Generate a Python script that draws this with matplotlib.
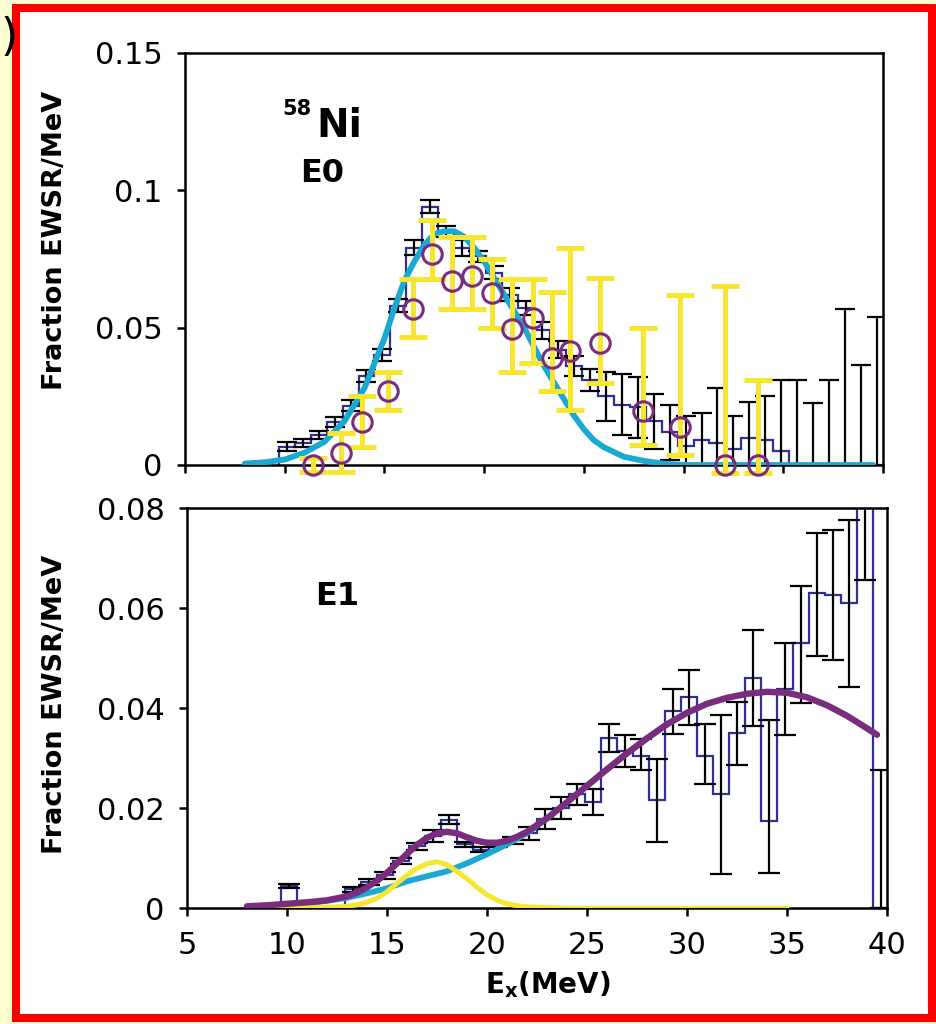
import numpy as np
import matplotlib
matplotlib.use("Agg")
import matplotlib.pyplot as plt
from matplotlib.patches import Rectangle

plt.rcParams['mathtext.default'] = 'bf'

# bin centres shared by both spectra (MeV)
bin_centers = [10.1, 10.9, 11.7, 12.5, 13.3, 14.1, 14.9, 15.7, 16.5, 17.3,
               18.1, 18.9, 19.7, 20.5, 21.3, 22.1, 22.9, 23.7, 24.5, 25.3,
               26.1, 26.9, 27.7, 28.5, 29.3, 30.1, 30.9, 31.7, 32.5, 33.3,
               34.1, 34.9, 35.7, 36.5, 37.3, 38.1, 38.9, 39.7]
bin_width = 0.8

# E0 strength (black points + blue histogram)
e0_val = [0.0067, 0.0080, 0.0110, 0.0158, 0.0215, 0.0325, 0.0400, 0.0580, 0.0790, 0.0940,
          0.0850, 0.0790, 0.0760, 0.0700, 0.0620, 0.0570, 0.0490, 0.0420, 0.0360, 0.0310,
          0.0250, 0.0220, 0.0210, 0.0160, 0.0120, 0.0070, 0.0090, 0.0080, 0.0060, 0.0100,
          0.0090, 0.0050, 0.0, 0.0, 0.0, 0.0, 0.0, 0.0]
e0_err = [0.0015, 0.0015, 0.0015, 0.0018, 0.0020, 0.0022, 0.0022, 0.0025, 0.0028, 0.0025,
          0.0020, 0.0030, 0.0020, 0.0025, 0.0025, 0.0025, 0.0030, 0.0030, 0.0035, 0.0040,
          0.0090, 0.0110, 0.0110, 0.0100, 0.0100, 0.0110, 0.0100, 0.0200, 0.0120, 0.0130,
          0.0160, 0.0260, 0.0310, 0.0226, 0.0310, 0.0566, 0.0365, 0.0540]

# second E0 data set (purple circles, yellow bars)
e0b_x = [11.4, 12.8, 13.9, 15.2, 16.45, 17.4, 18.4, 19.4, 20.4, 21.4, 22.45, 23.4,
         24.3, 25.8, 27.95, 29.8, 32.1, 33.75]
e0b_val = [0.0, 0.0044, 0.0155, 0.027, 0.0566, 0.0766, 0.0669, 0.0687, 0.0627, 0.0493,
           0.0535, 0.039, 0.0414, 0.0444, 0.0195, 0.014, 0.0, 0.0]
e0b_lo = [-0.0025, -0.0026, 0.0067, 0.020, 0.0464, 0.0675, 0.0566, 0.0566, 0.050, 0.034,
          0.037, 0.027, 0.020, 0.030, 0.0073, 0.0036, -0.003, -0.003]
e0b_hi = [0.0025, 0.0117, 0.025, 0.034, 0.0675, 0.089, 0.083, 0.083, 0.0748, 0.0675,
          0.0675, 0.063, 0.079, 0.068, 0.050, 0.062, 0.065, 0.031]

# E0 fit curve
e0_fit_x = [8.0, 9.0, 10.0, 11.0, 12.0, 13.0, 14.0, 15.0, 15.5, 16.0, 16.5, 17.0, 17.5,
            18.0, 18.5, 19.0, 19.5, 20.0, 20.5, 21.0, 21.5, 22.0, 22.5, 23.0, 23.5, 24.0,
            24.5, 25.0, 25.5, 26.0, 27.0, 28.0, 29.0, 30.0, 39.5]
e0_fit_y = [0.0005, 0.001, 0.002, 0.0045, 0.0085, 0.016, 0.028, 0.046, 0.057, 0.067, 0.074,
            0.080, 0.084, 0.085, 0.085, 0.083, 0.079, 0.074, 0.068, 0.062, 0.056, 0.050,
            0.043, 0.036, 0.030, 0.024, 0.018, 0.013, 0.009, 0.0065, 0.003, 0.0015, 0.0005,
            0.0, 0.0]

# E1 strength
e1_val = [0.0045, np.nan, np.nan, np.nan, 0.0038, 0.0053, 0.0066, 0.0094, 0.0124, 0.0145,
          0.0177, 0.0128, 0.0117, 0.0128, 0.0136, 0.0150, 0.0179, 0.0201, 0.0228, 0.0213,
          0.0340, 0.0315, 0.0305, 0.0216, 0.0394, 0.0422, 0.0305, 0.0229, 0.0350, 0.0460,
          0.0175, 0.0438, 0.0530, 0.0630, 0.0627, 0.0610, 0.0950, 0.0]
e1_lo = [0.0041, np.nan, np.nan, np.nan, 0.0033, 0.0047, 0.0059, 0.0088, 0.0117, 0.0133,
         0.0169, 0.0123, 0.0112, 0.0122, 0.0129, 0.0136, 0.0159, 0.0179, 0.0206, 0.0186,
         0.0313, 0.0283, 0.0276, 0.0133, 0.0349, 0.0366, 0.0248, 0.0069, 0.0286, 0.0364,
         0.0071, 0.0346, 0.0410, 0.0504, 0.0496, 0.0443, 0.0657, 0.0]
e1_hi = [0.0049, np.nan, np.nan, np.nan, 0.0043, 0.0059, 0.0073, 0.0100, 0.0131, 0.0156,
         0.0186, 0.0133, 0.0122, 0.0134, 0.0143, 0.0163, 0.0199, 0.0223, 0.0249, 0.0239,
         0.0369, 0.0346, 0.0339, 0.0299, 0.0439, 0.0476, 0.0369, 0.0386, 0.0413, 0.0557,
         0.0377, 0.0531, 0.0644, 0.0750, 0.0756, 0.0776, 0.1200, 0.0276]

# E1 fit curves: total (purple), pygmy (yellow), GDR tail (cyan)
e1_tot_x = [8.0, 9.0, 10.0, 11.0, 12.0, 13.0, 13.5, 14.0, 14.5, 15.0, 15.5, 16.0, 16.5,
            17.0, 17.5, 18.0, 18.5, 19.0, 19.5, 20.0, 20.5, 21.0, 21.5, 22.0, 23.0, 24.0,
            25.0, 26.0, 27.0, 28.0, 29.0, 30.0, 31.0, 32.0, 33.0, 34.0, 35.0, 36.0, 37.0,
            38.0, 39.0, 39.5]
e1_tot_y = [0.0004, 0.0006, 0.0009, 0.0012, 0.0016, 0.0024, 0.0031, 0.0042, 0.0055, 0.0071,
            0.0090, 0.0109, 0.0127, 0.0141, 0.0150, 0.0153, 0.0150, 0.0142, 0.0135, 0.0131,
            0.0131, 0.0135, 0.0143, 0.0153, 0.0180, 0.0212, 0.0245, 0.0278, 0.0310, 0.0340,
            0.0368, 0.0391, 0.0409, 0.0421, 0.0429, 0.0433, 0.0431, 0.0422, 0.0406, 0.0385,
            0.0360, 0.0347]
e1_pdr_x = [8.0, 10.0, 11.0, 12.0, 13.0, 13.5, 14.0, 14.5, 15.0, 15.5, 16.0, 16.5, 17.0,
            17.5, 18.0, 18.5, 19.0, 19.5, 20.0, 20.5, 21.0, 21.5, 22.0, 23.0, 24.0, 35.0]
e1_pdr_y = [0.0, 0.0, 0.0001, 0.0002, 0.0004, 0.0007, 0.0012, 0.0020, 0.0033, 0.0050,
            0.0066, 0.0080, 0.0089, 0.0093, 0.0087, 0.0074, 0.0059, 0.0042, 0.0027, 0.0016,
            0.0009, 0.0005, 0.0003, 0.0001, 0.0, 0.0]
e1_gdr_x = [8.0, 10.0, 11.0, 12.0, 13.0, 14.0, 15.0, 16.0, 17.0, 18.0, 19.0, 20.0, 21.0,
            22.0, 23.0, 24.0, 25.0, 26.0, 27.0, 28.0, 29.0, 30.0]
e1_gdr_y = [0.0003, 0.0006, 0.0010, 0.0015, 0.0021, 0.0030, 0.0040, 0.0054, 0.0064, 0.0074,
            0.0090, 0.0108, 0.0128, 0.0150, 0.0180, 0.0212, 0.0245, 0.0278, 0.0310, 0.0340,
            0.0368, 0.0391]

navy = '#2E3192'
cyan = '#19A9D3'
yellow = '#F8E530'
purple = '#7A2C7F'

centers = np.array(bin_centers)
edges = np.append(centers - bin_width / 2, centers[-1] + bin_width / 2)

fig = plt.figure(figsize=(9.37, 10.24), dpi=100, facecolor='#FFFFD2')
W, H = 937.0, 1024.0
fig.patches.append(Rectangle((16 / W, 1 - 1018 / H), 916 / W, 1010 / H,
                             transform=fig.transFigure, facecolor='white',
                             edgecolor='#FF0000', lw=5.8, zorder=-5))

ax1 = fig.add_axes([185 / W, 1 - 465 / H, 698 / W, 412.5 / H])
ax2 = fig.add_axes([187 / W, 1 - 908.3 / H, 700 / W, 400 / H])


def style(ax):
    for s in ax.spines.values():
        s.set_linewidth(1.8)
    ax.tick_params(direction='out', length=6, width=1.8, labelsize=22, pad=10)
    ax.set_xlim(5, 40)
    ax.set_xticks([5, 10, 15, 20, 25, 30, 35, 40])


# ---- top panel: E0
style(ax1)
ax1.set_ylim(0, 0.15)
ax1.set_yticks([0, 0.05, 0.1, 0.15])
ax1.set_yticklabels(['0', '0.05', '0.1', '0.15'])
ax1.tick_params(axis='x', labelbottom=False)

ax1.stairs(e0_val, edges, baseline=0, color=navy, lw=1.6, zorder=2)
ax1.errorbar(centers, e0_val, yerr=e0_err, fmt='none', ecolor='black',
             elinewidth=1.6, capsize=7, capthick=1.6, zorder=3)
ax1.plot(e0_fit_x, e0_fit_y, color=cyan, lw=4.2, solid_capstyle='round', zorder=4)
yerr_b = [np.array(e0b_val) - np.array(e0b_lo), np.array(e0b_hi) - np.array(e0b_val)]
eb = ax1.errorbar(e0b_x, e0b_val, yerr=yerr_b, fmt='none', ecolor=yellow,
                  elinewidth=3.6, capsize=10, capthick=3.6, zorder=5)
for art in eb.get_children():
    art.set_clip_on(False)
ax1.plot(e0b_x, e0b_val, 'o', mfc='none', mec=purple, ms=14, mew=2.2,
         zorder=6, clip_on=False)

fig.text(282 / W, 1 - 115 / H, '58', fontsize=15, fontweight='bold', va='baseline')
fig.text(316 / W, 1 - 137 / H, 'Ni', fontsize=28, fontweight='bold', va='baseline')
fig.text(300 / W, 1 - 182 / H, 'E0', fontsize=23, fontweight='bold', va='baseline')

# ---- bottom panel: E1
style(ax2)
ax2.set_ylim(0, 0.08)
ax2.set_yticks([0, 0.02, 0.04, 0.06, 0.08])
ax2.set_yticklabels(['0', '0.02', '0.04', '0.06', '0.08'])

val1 = np.array(e1_val)
ax2.stairs(np.nan_to_num(val1), edges, baseline=0, color=navy, lw=1.6, zorder=2)
ax2.errorbar(centers, val1, yerr=[val1 - np.array(e1_lo), np.array(e1_hi) - val1],
             fmt='none', ecolor='black', elinewidth=1.6, capsize=8, capthick=1.6, zorder=3)
ax2.plot(e1_gdr_x, e1_gdr_y, color=cyan, lw=4.2, solid_capstyle='round', zorder=4)
ax2.plot(e1_pdr_x, e1_pdr_y, color=yellow, lw=3.6, solid_capstyle='round', zorder=5)
ax2.plot(e1_tot_x, e1_tot_y, color=purple, lw=4.6, solid_capstyle='round', zorder=6)

fig.text(315 / W, 1 - 605 / H, 'E1', fontsize=23, fontweight='bold', va='baseline')

fig.text(548 / W, 1 - 993 / H, r'E$_{x}$(MeV)', fontsize=20, fontweight='bold',
         ha='center', va='baseline')
for yc in (240, 704):
    fig.text(55 / W, 1 - yc / H, 'Fraction EWSR/MeV', fontsize=19.5, fontweight='bold',
             rotation=90, ha='center', va='center')

# fragment of the panel label left of the frame
fig.text(0.5 / W, 1 - 38 / H, ')', fontsize=32, ha='left', va='center')

fig.savefig('out.png', dpi=100, facecolor=fig.get_facecolor())
